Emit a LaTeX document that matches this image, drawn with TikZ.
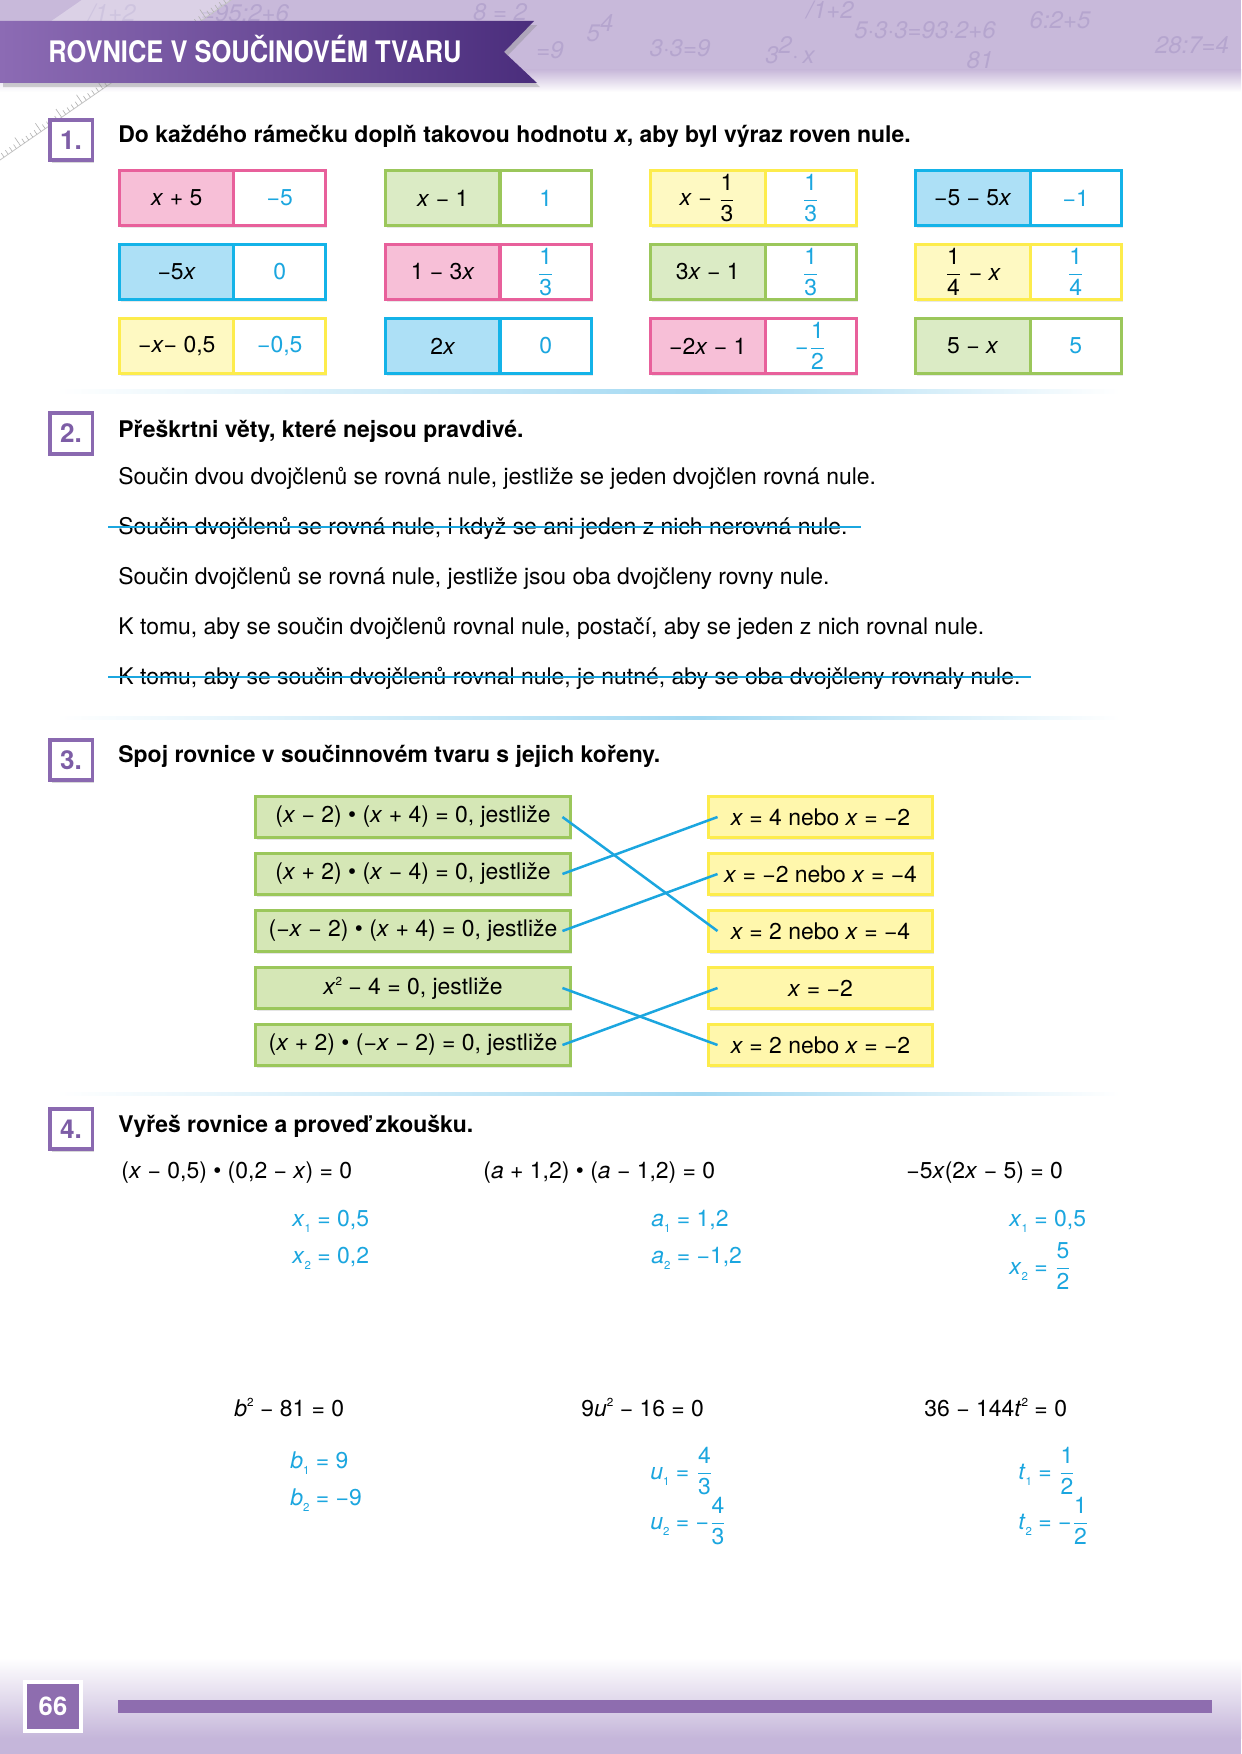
\documentclass[tikz,border=0pt]{standalone}
\usepackage{fontspec}
\setmainfont{TeX Gyre Heros}
\usepackage{amsmath}
\usepackage{graphicx}
\usetikzlibrary{calc,shadows}
\definecolor{bannerL}{HTML}{8C6BB4}
\definecolor{bannerR}{HTML}{4A2D7C}
\definecolor{lav}{HTML}{C8B9DA}
\definecolor{lavtext}{HTML}{A392C3}
\definecolor{footlav}{HTML}{C5B6DA}
\definecolor{numpurple}{HTML}{8A69B0}
\definecolor{numtext}{HTML}{7D5DA6}
\definecolor{barpurple}{HTML}{8E6DAF}
\definecolor{pinkL}{HTML}{E8609B}
\definecolor{pinkF}{HTML}{F7BFD7}
\definecolor{greenL}{HTML}{9BC75B}
\definecolor{greenF}{HTML}{DBEBC5}
\definecolor{blueL}{HTML}{14B3E8}
\definecolor{blueF}{HTML}{ADE0F6}
\definecolor{yelL}{HTML}{FDEC4C}
\definecolor{yelF}{HTML}{FEF9C2}
\definecolor{greenS}{HTML}{D5E7B6}
\definecolor{yelS}{HTML}{FFF7AC}
\definecolor{ans}{HTML}{1BA6DF}
\definecolor{sepc}{HTML}{A3D9F2}
\newcommand\vx{\textit{x}}
\newcommand\ivar[1]{\textit{#1}}
\newcommand\sbs[1]{\raisebox{-3pt}{\fontsize{5.5}{6}\selectfont #1}}
\newcommand\sps[1]{\raisebox{4.4pt}{\fontsize{5.6}{6}\selectfont #1}}
\newcommand\fr[2]{$\genfrac{}{}{0.6pt}{0}{\text{#1}}{\text{#2}}$}
\tikzset{
  pbox/.style={line width=1.44pt, inner sep=0pt, outer sep=0pt, minimum height=26.4pt,
    anchor=north west, drop shadow={opacity=0.18, shadow xshift=0.6pt, shadow yshift=-1.2pt}},
  numbox/.style={draw=numpurple, line width=1.7pt, fill=white, minimum width=20.4pt,
    minimum height=19.4pt, inner sep=0pt, text=numtext,
    font=\bfseries\fontsize{12.5}{14}\selectfont,
    drop shadow={opacity=0.3, shadow xshift=1pt, shadow yshift=-1.2pt}},
  title/.style={anchor=base west, inner sep=0pt, font=\bfseries\fontsize{11}{13}\selectfont},
  txt/.style={anchor=base west, inner sep=0pt},
  anst/.style={anchor=base west, inner sep=0pt, text=ans},
  strike/.style={draw=ans, line width=1.4pt},
  lbox/.style={draw=greenL, fill=greenS, line width=1.44pt, minimum width=151pt,
    minimum height=19.7pt, inner sep=0pt, outer sep=0pt,
    drop shadow={opacity=0.2, shadow xshift=0.6pt, shadow yshift=-1.2pt}},
  rbox/.style={draw=yelL, fill=yelS, line width=1.44pt, minimum width=107.4pt,
    minimum height=19.7pt, inner sep=0pt, outer sep=0pt,
    drop shadow={opacity=0.2, shadow xshift=0.6pt, shadow yshift=-1.2pt}},
  link/.style={draw=ans, line width=1.2pt},
  faint/.style={text=lavtext, opacity=0.5, font=\itshape\fontsize{11.5}{13}\selectfont, inner sep=0pt},
}
\newcommand\pairbox[7]{%
  \node[pbox, draw=#4, fill=#5, minimum width=54.9pt] (#1a) at (#2,#3) {#6};
  \node[pbox, draw=#4, fill=white, minimum width=43.9pt, text=ans] (#1b) at (#1a.north east) {#7};}
\newcommand\sepline[1]{%
  \shade[left color=white, right color=sepc] (56,#1) rectangle (700,#1-3.5);
  \shade[left color=sepc, right color=white] (700,#1) rectangle (1120,#1-3.5);}
\begin{document}
\begin{tikzpicture}[x=0.4795pt, y=0.4795pt, font=\fontsize{11}{13}\selectfont]
\useasboundingbox (0,0) rectangle (1241,-1754);
\fill[white] (0,0) rectangle (1241,-1754);
% top band
\fill[lav] (0,0) rectangle (1241,-70);
\shade[top color=lav, bottom color=white] (0,-70) rectangle (1241,-92);
\node[faint] (f1) at (112,-13) {/1+2};
\node[faint] (f2) at (245,-13) {=95:2+6};
\node[faint] (f12) at (500,-12) {8 = 2};
\node[faint] (f3) at (550,-50) {=9};
\node[faint] (f4) at (600,-28) {5\raisebox{5pt}{4}};
\node[faint] (f5) at (680,-48) {3·3=9};
\node[faint] (f6) at (790,-50) {3\raisebox{5pt}{2}·\,x};
\node[faint] (f7) at (830,-10) {/1+2};
\node[faint] (f8) at (925,-30) {5·3·3=93·2+6};
\node[faint] (f11) at (980,-60) {81};
\node[faint] (f9) at (1060,-20) {6:2+5};
\node[faint] (f10) at (1192,-45) {28:7=4};
% ruler
\begin{scope}[shift={(0,-160)}, rotate=34.7]
  \fill[white, opacity=0.35] (-40,0) rectangle (320,85);
  \draw[gray!45, line width=0.4pt] (-40,0) -- (320,0);
  \foreach \i in {-8,...,64} {
    \pgfmathsetmacro\tl{ifthenelse(mod(abs(\i),5)==0,10,5)}
    \draw[gray!60, line width=0.3pt] (\i*5,0) -- (\i*5,\tl);
  }
\end{scope}
% banner
\path[left color=bannerL, right color=bannerR,
  drop shadow={opacity=0.35, shadow xshift=1.5pt, shadow yshift=-2pt}]
  (0,-21) -- (534,-21) -- (504,-52) -- (537,-83) -- (0,-83) -- cycle;
\node[anchor=base west, inner sep=0pt, text=white, font=\bfseries\fontsize{14.2}{16}\selectfont]
  (head) at (48,-63) {\scalebox{0.86}[1]{ROVNICE V SOUČINOVÉM TVARU}};

% ---- section 1
\node[numbox] (n1) at (71,-140) {1.};
\node[title] (t1) at (118,-143) {Do každého rámečku doplň takovou hodnotu \textit{x}, aby byl výraz roven nule.};
\pairbox{p11}{119.5}{-170.5}{pinkL}{pinkF}{\vx{} + 5}{−5}
\pairbox{p12}{119.5}{-244.5}{blueL}{blueF}{−5\vx}{0}
\pairbox{p13}{119.5}{-318.5}{yelL}{yelF}{−\vx{}− 0,5}{−0,5}
\pairbox{p21}{385.5}{-170.5}{greenL}{greenF}{\vx{} − 1}{1}
\pairbox{p22}{385.5}{-244.5}{pinkL}{pinkF}{1 − 3\vx}{\fr{1}{3}}
\pairbox{p23}{385.5}{-318.5}{blueL}{blueF}{2\vx}{0}
\pairbox{p31}{650.5}{-170.5}{yelL}{yelF}{\vx{} − \fr{1}{3}}{\fr{1}{3}}
\pairbox{p32}{650.5}{-244.5}{greenL}{greenF}{3\vx{} − 1}{\fr{1}{3}}
\pairbox{p33}{650.5}{-318.5}{pinkL}{pinkF}{−2\vx{} − 1}{−\fr{1}{2}}
\pairbox{p41}{915.5}{-170.5}{blueL}{blueF}{−5 − 5\vx}{−1}
\pairbox{p42}{915.5}{-244.5}{yelL}{yelF}{\fr{1}{4} − \vx}{\fr{1}{4}}
\pairbox{p43}{915.5}{-318.5}{greenL}{greenF}{5 − \vx}{5}
\sepline{-390}

% ---- section 2
\node[numbox] (n2) at (71,-433.5) {2.};
\node[title] (t2) at (118,-437) {Přeškrtni věty, které nejsou pravdivé.};
\node[txt] (s1) at (118,-485) {Součin dvou dvojčlenů se rovná nule, jestliže se jeden dvojčlen rovná nule.};
\node[txt] (s2) at (118,-534) {Součin dvojčlenů se rovná nule, i když se ani jeden z nich nerovná nule.};
\node[txt] (s3) at (118,-584) {Součin dvojčlenů se rovná nule, jestliže jsou oba dvojčleny rovny nule.};
\node[txt] (s4) at (118,-634) {K tomu, aby se součin dvojčlenů rovnal nule, postačí, aby se jeden z nich rovnal nule.};
\node[txt] (s5) at (118,-684) {K tomu, aby se součin dvojčlenů rovnal nule, je nutné, aby se oba dvojčleny rovnaly nule.};
\draw[strike] ($(s2.base west)+(-10,7)$) -- ($(s2.base east)+(13,7)$);
\draw[strike] ($(s5.base west)+(-10,7)$) -- ($(s5.base east)+(10,7)$);
\sepline{-716}

% ---- section 3
\node[numbox] (n3) at (71,-760) {3.};
\node[title] (t3) at (118,-762) {Spoj rovnice v součinnovém tvaru s jejich kořeny.};
\node[lbox] (L1) at (413,-817) {(\vx{} − 2) • (\vx{} + 4) = 0, jestliže};
\node[lbox] (L2) at (413,-874) {(\vx{} + 2) • (\vx{} − 4) = 0, jestliže};
\node[lbox] (L3) at (413,-931) {(−\vx{} − 2) • (\vx{} + 4) = 0, jestliže};
\node[lbox] (L4) at (413,-988) {\vx\sps{2} − 4 = 0, jestliže};
\node[lbox] (L5) at (413,-1045) {(\vx{} + 2) • (−\vx{} − 2) = 0, jestliže};
\node[rbox] (R1) at (820.5,-817) {\vx{} = 4 nebo \vx{} = −2};
\node[rbox] (R2) at (820.5,-874) {\vx{} = −2 nebo \vx{} = −4};
\node[rbox] (R3) at (820.5,-931) {\vx{} = 2 nebo \vx{} = −4};
\node[rbox] (R4) at (820.5,-988) {\vx{} = −2};
\node[rbox] (R5) at (820.5,-1045) {\vx{} = 2 nebo \vx{} = −2};
\draw[link] ($(L1.east)+(-8,0)$) -- ($(R3.west)+(9,0)$);
\draw[link] ($(L2.east)+(-8,0)$) -- ($(R1.west)+(9,0)$);
\draw[link] ($(L3.east)+(-8,0)$) -- ($(R2.west)+(9,0)$);
\draw[link] ($(L4.east)+(-8,0)$) -- ($(R5.west)+(9,0)$);
\draw[link] ($(L5.east)+(-8,0)$) -- ($(R4.west)+(9,0)$);
\sepline{-1092}

% ---- section 4
\node[numbox] (n4) at (71,-1129) {4.};
\node[title] (t4) at (118,-1132) {Vyřeš rovnice a proveď zkoušku.};
\node[txt] (e1) at (121,-1178) {(\vx{} − 0,5) • (0,2 − \vx) = 0};
\node[txt] (e2) at (483,-1178) {(\ivar{a} + 1,2) • (\ivar{a} − 1,2) = 0};
\node[txt] (e3) at (906,-1178) {−5\vx(2\vx{} − 5) = 0};
\node[anst] (a11) at (292,-1226) {\vx\sbs{1} = 0,5};
\node[anst] (a12) at (292,-1263) {\vx\sbs{2} = 0,2};
\node[anst] (a21) at (651,-1226) {\ivar{a}\sbs{1} = 1,2};
\node[anst] (a22) at (651,-1263) {\ivar{a}\sbs{2} = −1,2};
\node[anst] (a31) at (1009,-1226) {\vx\sbs{1} = 0,5};
\node[anst] (a32) at (1009,-1274) {\vx\sbs{2} = \fr{5}{2}};
\node[txt] (e4) at (234,-1416) {\ivar{b}\sps{2} − 81 = 0};
\node[txt] (e5) at (581,-1416) {9\ivar{u}\sps{2} − 16 = 0};
\node[txt] (e6) at (924,-1416) {36 − 144\ivar{t}\sps{2} = 0};
\node[anst] (b1) at (290,-1468) {\ivar{b}\sbs{1} = 9};
\node[anst] (b2) at (290,-1505) {\ivar{b}\sbs{2} = −9};
\node[anst] (u1) at (650,-1479) {\ivar{u}\sbs{1} = \fr{4}{3}};
\node[anst] (u2) at (650,-1529) {\ivar{u}\sbs{2} = −\fr{4}{3}};
\node[anst] (t1a) at (1018,-1479) {\ivar{t}\sbs{1} = \fr{1}{2}};
\node[anst] (t2a) at (1018,-1529) {\ivar{t}\sbs{2} = −\fr{1}{2}};

% ---- footer
\shade[top color=white, bottom color=footlav] (0,-1658) rectangle (1241,-1738);
\fill[footlav] (0,-1738) rectangle (1241,-1754);
\fill[barpurple] (118,-1700) rectangle (1212,-1713);
\node[fill=barpurple, draw=white, line width=2pt, minimum width=26.6pt, minimum height=23.3pt,
  inner sep=0pt, text=white, font=\bfseries\fontsize{12.3}{14}\selectfont,
  drop shadow={opacity=0.3, shadow xshift=1pt, shadow yshift=-1.2pt}] (pg) at (53,-1706.5) {66};
\end{tikzpicture}
\end{document}
